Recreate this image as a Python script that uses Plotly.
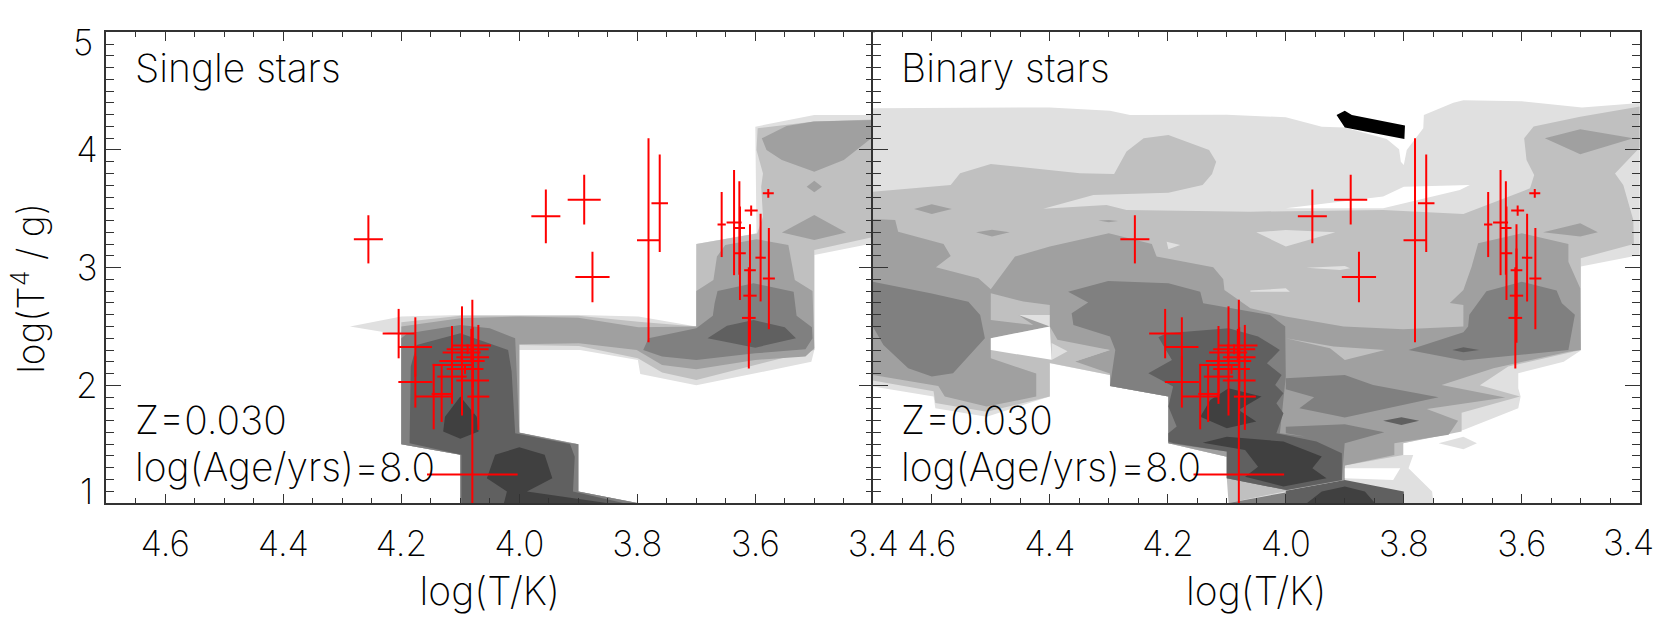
import plotly.graph_objects as go

# stars, same in both panels
LOG_T = [4.2558, 3.955, 3.890, 3.876, 3.781, 3.762, 3.657, 3.636, 3.627, 3.626, 3.607, 3.578, 3.591, 3.577, 3.609, 3.609, 3.611,
         4.0813, 4.0875, 4.0977, 4.0790, 4.0971, 4.1141, 4.0920, 4.1141, 4.0790, 4.1316, 4.1451, 4.0694, 4.1762, 4.1762, 4.2045, 4.0796]
LOG_G = [3.241, 3.436, 3.578, 2.921, 3.233, 3.547, 3.366, 3.383, 3.337, 3.122, 3.485, 3.632, 3.085, 2.907, 2.978, 2.762, 2.573,
         2.3375, 2.3064, 2.2780, 2.2384, 2.2072, 2.1733, 2.1393, 2.0741, 2.0401, 1.9268, 1.9042, 1.9042, 2.3262, 2.0288, 2.4395, 1.2415]
ERR_T = [0.0246, 0.0246, 0.028, 0.029, 0.0195, 0.014, 0.007, 0.0127, 0.0096, 0.0099, 0.011, 0.0093, 0.0088, 0.0102, 0.0099, 0.0113, 0.0116,
         0.0333, 0.0356, 0.0322, 0.0277, 0.0384, 0.0328, 0.0311, 0.0249, 0.0277, 0.0169, 0.0311, 0.0186, 0.0282, 0.0288, 0.0271, 0.0768]
ERR_G_UP = [0.205, 0.228, 0.211, 0.215, 0.867, 0.415, 0.276, 0.447, 0.397, 0.397, 0.044, 0.037, 0.372, 0.43, 0.39, 0.40, 0.43,
            0.142, 0.042, 0.071, 0.255, 0.464, 0.331, 0.042, 0.17, 0.283, 0.238, 0.278, 0.609, 0.252, 0.218, 0.21, 1.485]
ERR_G_DOWN = [0.205, 0.228, 0.211, 0.215, 0.867, 0.415, 0.276, 0.447, 0.397, 0.397, 0.044, 0.037, 0.372, 0.43, 0.39, 0.40, 0.43,
              0.142, 0.042, 0.071, 0.255, 0.464, 0.331, 0.042, 0.17, 0.283, 0.238, 0.278, 0.283, 0.252, 0.218, 0.21, 1.485]

# single star density, (log T, log g) outlines per grey level
SINGLE_E0 = [[(4.287, 2.499), (4.2, 2.584), (4.1, 2.598), (3.897, 2.598), (3.798, 2.584), (3.7, 2.499), (3.7, 3.2), (3.598, 3.292),
              (3.6, 4.198), (3.5, 4.297), (3.4, 4.297), (3.4, 3.207), (3.5, 3.108), (3.5, 2.30), (3.505, 2.2), (3.7, 2.0),
              (3.795, 2.097), (3.799, 2.215), (3.897, 2.30), (4.0, 2.30), (4.0, 1.598), (3.9, 1.5), (3.9, 1.097), (3.8, 1.0),
              (4.1, 1.0), (4.1, 1.41), (4.2, 1.5), (4.2, 2.428)]]
SINGLE_C0 = [[(4.2, 2.536), (4.1, 2.592), (3.9, 2.592), (3.798, 2.54), (3.7, 2.5), (3.7, 3.2), (3.597, 3.29), (3.587, 3.433), (3.59, 3.688),
              (3.587, 3.80), (3.598, 4.0), (3.596, 4.184), (3.5, 4.241), (3.4, 4.26), (3.4, 3.26), (3.5, 3.15), (3.5, 2.30),
              (3.7, 2.046), (3.758, 2.108), (3.799, 2.23), (3.899, 2.335), (4.0, 2.343), (4.0, 1.598), (3.9, 1.5), (3.9, 1.097),
              (3.8, 1.0), (4.1, 1.0), (4.1, 1.41), (4.2, 1.5)]]
SINGLE_A0 = [[(4.2, 2.50), (4.1, 2.57), (4.0, 2.585), (3.9, 2.575), (3.798, 2.494), (3.7, 2.5), (3.7, 2.802), (3.671, 2.895), (3.665, 3.094),
              (3.651, 3.193), (3.598, 3.241), (3.544, 3.193), (3.533, 2.895), (3.503, 2.802), (3.5, 2.315), (3.515, 2.244), (3.6, 2.216),
              (3.7, 2.137), (3.758, 2.173), (3.801, 2.30), (3.899, 2.357), (4.0, 2.349), (4.0, 1.6), (3.9, 1.5), (3.9, 1.097), (3.8, 1.0),
              (4.1, 1.0), (4.1, 1.41), (4.2, 1.5)],
             [(3.589, 4.099), (3.547, 4.204), (3.501, 4.241), (3.4, 4.255), (3.4, 4.113), (3.45, 3.915), (3.5, 3.816), (3.555, 3.915), (3.581, 4.0)],
             [(3.5, 3.739), (3.487, 3.688), (3.5, 3.64), (3.513, 3.688)],
             [(3.5, 3.448), (3.446, 3.298), (3.5, 3.235), (3.555, 3.298)]]
SINGLE_80 = [[(4.2, 2.40), (4.19, 2.44), (4.1, 2.513), (4.05, 2.485), (4.007, 2.40), (4.0, 1.598), (3.913, 1.508), (3.9, 1.5), (3.9, 1.097),
              (3.8, 1.0), (4.1, 1.0), (4.1, 1.41), (4.2, 1.5)],
             [(3.79, 2.30), (3.781, 2.4), (3.7, 2.485), (3.672, 2.592), (3.669, 2.697), (3.664, 2.802), (3.603, 2.867), (3.535, 2.796),
              (3.53, 2.592), (3.504, 2.493), (3.503, 2.4), (3.515, 2.306), (3.6, 2.272), (3.7, 2.216), (3.758, 2.244)]]
SINGLE_60 = [[(4.184, 2.159), (4.174, 2.343), (4.1, 2.442), (4.019, 2.301), (4.013, 2.117), (4.007, 1.593), (3.914, 1.502), (3.906, 1.394),
              (3.909, 1.097), (3.824, 1.0), (4.098, 1.0), (4.098, 1.409), (4.186, 1.508)],
             [(3.681, 2.4), (3.648, 2.507), (3.603, 2.556), (3.55, 2.493), (3.531, 2.4), (3.6, 2.32)]]
SINGLE_40 = [[(4.1, 1.904), (4.072, 1.734), (4.069, 1.607), (4.1, 1.545), (4.129, 1.607), (4.126, 1.734)],
             [(4.0, 1.474), (3.957, 1.409), (3.944, 1.21), (3.987, 1.097), (3.852, 1.0), (4.026, 1.0), (4.021, 1.097), (4.055, 1.21), (4.041, 1.409)]]

# binary star density
BINARY_E0 = [[(4.7, 4.354), (4.4, 4.362), (4.298, 4.334), (4.264, 4.297), (4.1, 4.3), (4.0, 4.278), (3.939, 4.198), (3.9, 4.192), (3.829, 4.093),
              (3.808, 4.006), (3.805, 3.9), (3.8, 3.873), (3.795, 4.0), (3.767, 4.184), (3.766, 4.297), (3.716, 4.402), (3.699, 4.422),
              (3.6, 4.414), (3.498, 4.36), (3.4, 4.40), (3.4, 3.108), (3.5, 3.009), (3.5, 2.295), (3.529, 2.2), (3.606, 2.102), (3.606, 1.975),
              (3.602, 1.904), (3.606, 1.805), (3.699, 1.621), (3.801, 1.508), (3.801, 1.408), (3.784, 1.408), (3.792, 1.295), (3.752, 1.097),
              (3.75, 1.0), (4.097, 1.0), (4.064, 1.111), (4.1, 1.21), (4.1, 1.394), (4.199, 1.508), (4.199, 1.904), (4.298, 1.995), (4.298, 2.088),
              (4.4, 2.187), (4.4, 1.904), (4.507, 1.734), (4.594, 1.805), (4.597, 1.904), (4.7, 1.99)],
             [(3.741, 1.508), (3.699, 1.564), (3.676, 1.508), (3.699, 1.457)]]
BINARY_C0 = [[(4.7, 3.646), (4.568, 3.703), (4.552, 3.802), (4.5, 3.881), (4.349, 3.802), (4.291, 3.796), (4.27, 3.986), (4.241, 4.099), (4.199, 4.127),
              (4.13, 4.0), (4.118, 3.9), (4.125, 3.796), (4.141, 3.703), (4.199, 3.637), (4.326, 3.618), (4.411, 3.5), (4.304, 3.533), (4.27, 3.49),
              (4.06, 3.476), (3.835, 3.49), (3.699, 3.456), (3.586, 3.674), (3.579, 3.788), (3.592, 3.915), (3.596, 4.1), (3.58, 4.2), (3.501, 4.283),
              (3.4, 4.37), (3.4, 4.02), (3.442, 3.8), (3.428, 3.703), (3.411, 3.405), (3.41, 3.2), (3.5, 3.08), (3.5, 2.3), (3.623, 2.159), (3.671, 2.0),
              (3.603, 1.904), (3.702, 1.768), (3.702, 1.607), (3.801, 1.508), (3.801, 1.408), (3.9, 1.318), (3.9, 1.196), (4.0, 1.1), (4.097, 1.0),
              (4.1, 1.21), (4.1, 1.394), (4.199, 1.508), (4.199, 1.904), (4.298, 1.995), (4.298, 2.088), (4.4, 2.19), (4.4, 1.904), (4.507, 1.775),
              (4.594, 1.85), (4.597, 1.95), (4.7, 2.04)]]
BINARY_A0 = [[(4.5, 2.816), (4.459, 3.094), (4.4, 3.179), (4.3, 3.292), (4.227, 3.201), (4.219, 3.094), (4.123, 3.003), (4.106, 2.901), (4.104, 2.811),
              (4.06, 2.655), (4.0, 2.584), (3.902, 2.499), (3.801, 2.476), (3.699, 2.499), (3.699, 2.683), (3.722, 2.7), (3.699, 2.81), (3.685, 3.009),
              (3.674, 3.207), (3.6, 3.292), (3.521, 3.2), (3.521, 3.05), (3.501, 2.825), (3.5, 2.3), (3.521, 2.286), (3.648, 2.145), (3.736, 2.003),
              (3.628, 1.896), (3.761, 1.799), (3.708, 1.7), (3.724, 1.579), (3.816, 1.508), (3.816, 1.408), (3.9, 1.318), (3.9, 1.196), (3.999, 1.111),
              (4.1, 1.21), (4.1, 1.394), (4.199, 1.508), (4.199, 1.904), (4.298, 1.995), (4.298, 2.1), (4.357, 2.202), (4.298, 2.3), (4.387, 2.387),
              (4.4, 2.5), (4.5, 2.5)],
             [(4.7, 3.414), (4.662, 3.405), (4.657, 3.306), (4.58, 3.201), (4.568, 3.1), (4.593, 3.003), (4.521, 2.91), (4.5, 2.816), (4.5, 2.556), (4.4, 2.5),
              (4.5, 2.4), (4.5, 2.23), (4.423, 2.1), (4.423, 1.904), (4.507, 1.82), (4.578, 1.904), (4.589, 1.995), (4.7, 2.088)],
             [(4.63, 3.499), (4.6, 3.539), (4.566, 3.499), (4.6, 3.456)],
             [(4.525, 3.3), (4.498, 3.323), (4.468, 3.3), (4.498, 3.264)],
             [(4.318, 3.4), (4.3, 3.405), (4.284, 3.397), (4.3, 3.385)],
             [(3.561, 4.1), (3.501, 4.176), (3.411, 4.1), (3.501, 3.963)],
             [(3.564, 3.3), (3.501, 3.377), (3.471, 3.3), (3.501, 3.264)]]
BINARY_80 = [[(4.369, 2.796), (4.301, 2.887), (4.199, 2.867), (4.145, 2.796), (4.14, 2.697), (4.027, 2.598), (4.001, 2.499), (4.0, 2.074), (4.01, 1.593),
              (3.9, 1.52), (3.905, 1.196), (3.999, 1.111), (4.1, 1.21), (4.1, 1.437), (4.199, 1.508), (4.199, 1.904), (4.298, 1.995), (4.289, 2.3),
              (4.298, 2.414), (4.36, 2.513), (4.363, 2.612), (4.335, 2.703)],
             [(4.7, 2.88), (4.6, 2.78), (4.538, 2.711), (4.518, 2.598), (4.51, 2.4), (4.564, 2.102), (4.6, 2.074), (4.64, 2.145), (4.682, 2.343), (4.7, 2.5)],
             [(3.792, 2.3), (3.699, 2.45), (3.691, 2.499), (3.689, 2.6), (3.66, 2.8), (3.6, 2.881), (3.541, 2.805), (3.532, 2.697), (3.51, 2.6), (3.521, 2.3), (3.699, 2.21)],
             [(4.0, 2.06), (3.9, 2.088), (3.852, 2.003), (3.741, 1.898), (3.9, 1.726), (3.977, 1.805), (3.952, 1.898), (4.0, 1.966)],
             [(4.0, 1.649), (3.9, 1.669), (3.833, 1.601), (3.9, 1.508), (4.0, 1.593)],
             [(4.097, 1.0), (4.0, 1.09), (4.0, 1.0)]]
BINARY_60 = [[(4.216, 2.408), (4.202, 2.442), (4.097, 2.485), (4.047, 2.414), (4.01, 2.301), (4.032, 2.187), (4.007, 2.088), (4.018, 2.003), (4.004, 1.933),
              (4.016, 1.848), (4.004, 1.763), (4.016, 1.593), (3.948, 1.522), (3.905, 1.423), (3.905, 1.196), (3.999, 1.111), (4.1, 1.21), (4.1, 1.437),
              (4.19, 1.508), (4.199, 1.522), (4.199, 1.593), (4.185, 1.65), (4.199, 1.819), (4.191, 1.989), (4.233, 2.102), (4.193, 2.216)],
             [(3.718, 2.3), (3.699, 2.323), (3.672, 2.3), (3.699, 2.281)],
             [(3.835, 1.7), (3.804, 1.729), (3.774, 1.7), (3.804, 1.663)],
             [(4.0, 1.105), (3.9, 1.196), (3.8, 1.097), (3.8, 1.0), (4.0, 1.0)]]
BINARY_40 = [[(4.097, 1.975), (4.041, 1.904), (4.08, 1.791), (4.05, 1.692), (4.1, 1.635), (4.145, 1.734), (4.128, 1.876)],
             [(4.141, 1.513), (4.1, 1.564), (4.004, 1.522), (3.939, 1.395), (3.955, 1.295), (3.931, 1.21), (4.004, 1.14), (4.069, 1.224), (4.047, 1.309), (4.069, 1.451)],
             [(3.964, 1.0), (3.939, 1.097), (3.9, 1.14), (3.866, 1.097), (3.849, 1.0)]]
# lighter pockets left inside the darker levels
BINARY_C0_POCKETS = [[(4.5, 2.782), (4.445, 2.712), (4.4, 2.683), (4.4, 2.598), (4.453, 2.598), (4.428, 2.513), (4.5, 2.556)],
                     [(4.0, 2.4), (3.925, 2.315), (3.9, 2.216), (3.832, 2.301), (3.919, 2.329)],
                     [(4.397, 2.36), (4.298, 2.3), (4.357, 2.202), (4.397, 2.207)]]
BINARY_E0_POCKETS = [[(4.453, 2.598), (4.4, 2.598), (4.4, 2.5)],
                     [(4.397, 2.36), (4.37, 2.29), (4.397, 2.215)],
                     [(4.05, 3.3), (4.0, 3.32), (3.916, 3.3), (4.0, 3.18)],
                     [(3.965, 3.0), (3.9, 3.015), (3.891, 2.995), (3.908, 2.98)],
                     [(4.06, 2.805), (4.0, 2.825), (3.993, 2.796), (4.06, 2.796)],
                     [(4.202, 3.221), (4.179, 3.193), (4.199, 3.156)]]
BINARY_HOLES = [[(4.5, 2.4), (4.4, 2.5), (4.397, 2.217), (4.5, 2.3)],
                [(3.9, 1.295), (3.806, 1.295), (3.818, 1.196), (3.9, 1.21)],
                [(4.0, 3.504), (3.835, 3.604), (3.8, 3.688), (3.688, 3.703), (3.705, 3.66), (3.835, 3.504)]]
BINARY_BLACK = [[(3.914, 4.297), (3.9, 4.334), (3.888, 4.297), (3.798, 4.207), (3.799, 4.093), (3.9, 4.192)]]

X_TICKS = [3.4, 3.6, 3.8, 4.0, 4.2, 4.4, 4.6]
X2_TICKS = [3.6, 3.8, 4.0, 4.2, 4.4, 4.6]
Y_TICKS = [2, 3, 4]

FONT = 'Inter, Lato, DejaVu Sans'
WEIGHT = 200
INK = '#333333'
TEXT = '#000000'


def band(polys, color, xa, ya):
    xs, ys = [], []
    for poly in polys:
        xs += [p[0] for p in poly] + [None]
        ys += [p[1] for p in poly] + [None]
    return go.Scatter(x=xs, y=ys, mode='lines', fill='toself', fillcolor=color, line=dict(width=0),
                      hoverinfo='skip', showlegend=False, xaxis=xa, yaxis=ya)


def stars(xa, ya):
    return go.Scatter(x=LOG_T, y=LOG_G, mode='markers', marker=dict(size=1, color='red'), showlegend=False,
                      error_x=dict(type='data', array=ERR_T, thickness=2, width=0, color='red'),
                      error_y=dict(type='data', symmetric=False, array=ERR_G_UP, arrayminus=ERR_G_DOWN,
                                   thickness=2, width=0, color='red'),
                      xaxis=xa, yaxis=ya)


fig = go.Figure()
for polys, color in [(SINGLE_E0, '#e0e0e0'), (SINGLE_C0, '#c0c0c0'), (SINGLE_A0, '#a0a0a0'),
                     (SINGLE_80, '#808080'), (SINGLE_60, '#606060'), (SINGLE_40, '#404040')]:
    fig.add_trace(band(polys, color, 'x', 'y'))
fig.add_trace(stars('x', 'y'))
for polys, color in [(BINARY_E0, '#e0e0e0'), (BINARY_C0, '#c0c0c0'), (BINARY_A0, '#a0a0a0'),
                     (BINARY_80, '#808080'), (BINARY_60, '#606060'), (BINARY_40, '#404040'),
                     (BINARY_C0_POCKETS, '#c0c0c0'), (BINARY_E0_POCKETS, '#e0e0e0'),
                     (BINARY_HOLES, '#ffffff'), (BINARY_BLACK, '#000000')]:
    fig.add_trace(band(polys, color, 'x2', 'y2'))
fig.add_trace(stars('x2', 'y2'))

W, H = 1661, 638
xax = dict(range=[4.7, 3.4], tickmode='array',
           ticks='inside', ticklen=9, tickwidth=1, tickcolor=INK, showgrid=False, zeroline=False, automargin=False,
           showline=True, linecolor=INK, linewidth=1.5, mirror='ticks', ticklabelstandoff=9,
           minor=dict(tickmode='linear', tick0=3.4, dtick=0.05, ticks='inside', ticklen=5, tickwidth=1, tickcolor=INK),
           tickfont=dict(family=FONT, weight=WEIGHT, size=35, color=TEXT),
           title=dict(text='log(T/K)', font=dict(family=FONT, weight=WEIGHT, size=39, color=TEXT), standoff=15))
yax = dict(range=[1, 5], tickmode='array', tickvals=Y_TICKS,
           ticks='inside', ticklen=15, tickwidth=1, tickcolor=INK, showgrid=False, zeroline=False, automargin=False,
           showline=True, linecolor=INK, linewidth=1.5, mirror='ticks',
           minor=dict(tickmode='linear', tick0=1, dtick=0.1, ticks='inside', ticklen=8, tickwidth=1, tickcolor=INK),
           tickfont=dict(family=FONT, weight=WEIGHT, size=35, color=TEXT))

fig.update_layout(
    width=W, height=H, margin=dict(l=0, r=0, t=0, b=0), autosize=False,
    paper_bgcolor='white', plot_bgcolor='white',
    xaxis=dict(xax, domain=[106.3 / W, 873.3 / W], anchor='y', tickvals=X_TICKS, ticktext=['%.1f' % v for v in X_TICKS]),
    yaxis=dict(yax, domain=[1 - 503 / H, 1 - 32.3 / H], anchor='x'),
    xaxis2=dict(xax, domain=[872.8 / W, 1639.8 / W], anchor='y2', tickvals=X2_TICKS, ticktext=['%.1f' % v for v in X2_TICKS]),
    yaxis2=dict(yax, domain=[1 - 503 / H, 1 - 32.3 / H], anchor='x2', showticklabels=False),
)


def label(text, x, y, xr, yr, size=39):
    fig.add_annotation(text=text, x=x, y=y, xref=xr, yref=yr, showarrow=False, xanchor='left', yanchor='middle',
                       font=dict(family=FONT, weight=WEIGHT, size=size, color=TEXT))


for xr, yr, name in [('x', 'y', 'Single stars'), ('x2', 'y2', 'Binary stars')]:
    label(name, 4.655, 4.697, xr, yr)
    label('Z=0.030', 4.655, 1.706, xr, yr)
    label('log(Age/yrs)=8.0', 4.655, 1.307, xr, yr)

tick_font = dict(family=FONT, weight=WEIGHT, size=35, color=TEXT)
fig.add_annotation(text='5', x=4.7, y=4.915, xref='x', yref='y', showarrow=False, xanchor='right', xshift=-11, font=tick_font)
fig.add_annotation(text='1', x=4.7, y=1.1, xref='x', yref='y', showarrow=False, xanchor='right', xshift=-11, font=tick_font)
# last label of the right panel sits pulled in from the page edge
fig.add_annotation(text='3.4', x=1628 / W, y=1 - 541.5 / H, xref='paper', yref='paper', showarrow=False,
                   xanchor='center', yanchor='middle', font=tick_font)
fig.add_annotation(text='log(T<sup>4</sup> / g)', x=28.6 / W, y=1 - 288 / H, xref='paper', yref='paper', showarrow=False,
                   xanchor='center', yanchor='middle', textangle=-90, font=dict(family=FONT, weight=WEIGHT, size=37, color=TEXT))

fig.write_html("out.html", config={'displayModeBar': False}, post_script="document.body.style.margin='0';")
